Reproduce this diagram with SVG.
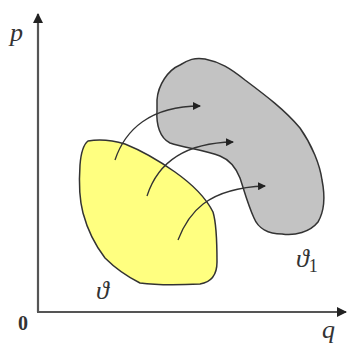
<svg xmlns="http://www.w3.org/2000/svg" width="350" height="344" viewBox="0 0 350 344">
<defs>
<marker id="ah" markerWidth="8" markerHeight="8" refX="7" refY="4" orient="auto" markerUnits="userSpaceOnUse">
<path d="M0,0 L8,4 L0,8 Z" fill="#222"/>
</marker>
<marker id="axh" markerWidth="10" markerHeight="10" refX="9" refY="5" orient="auto" markerUnits="userSpaceOnUse">
<path d="M0,0 L10,5 L0,10 Z" fill="#222"/>
</marker>
<style>
.blob{stroke:#333;stroke-width:1.5;stroke-linejoin:round}
.conn{fill:none;stroke:#333;stroke-width:1.3}
.axis{fill:none;stroke:#555;stroke-width:2.2}
.lbl{font-family:"Liberation Serif",serif;font-style:italic;fill:#333}
</style>
</defs>
<rect width="350" height="344" fill="#fff"/>
<g id="axes">
<line class="axis" x1="38" y1="312" x2="38" y2="14" marker-end="url(#axh)"/>
<line class="axis" x1="37" y1="312" x2="346" y2="312" marker-end="url(#axh)"/>
</g>
<g id="gamma1">
<path class="blob" fill="#c3c3c3" d="M157,100 C158,85 168,70 180,65 C188,60 195,57 205,59 C220,62 230,68 245,80 C265,95 285,110 300,128 C312,145 320,165 322,180 C325,195 325,210 318,222 C310,232 295,236 282,234 C268,234 258,228 254,218 C248,205 244,190 240,178 C236,168 230,160 220,156 C205,150 185,148 170,143 C160,138 156,125 157,110 Z"/>
</g>
<g id="gamma">
<path class="blob" fill="#ffff80" d="M88,141 C100,139 115,141 125,144 C140,150 158,160 175,172 C192,184 205,196 213,212 C217,225 217,245 217,262 C217,274 212,282 200,284 C180,285 155,285 140,283 C128,277 115,268 105,258 C95,245 87,228 83,213 C79,198 79,180 80,165 C81,152 83,145 88,141 Z"/>
</g>
<g id="connectors">
<path class="conn" d="M115,160 C125,130 150,106 200,106" marker-end="url(#ah)"/>
<path class="conn" d="M147,196 C156,168 178,143 233,142" marker-end="url(#ah)"/>
<path class="conn" d="M178,240 C188,214 206,188 265,186" marker-end="url(#ah)"/>
</g>
<g id="labels">
<text class="lbl" x="10" y="41" font-size="26">p</text>
<text class="lbl" x="322" y="338" font-size="26">q</text>
<text x="18" y="330" font-family="Liberation Serif,serif" font-weight="bold" font-size="20" fill="#333">0</text>
<text class="lbl" x="96" y="299" font-size="26">ϑ</text>
<text class="lbl" x="296" y="267" font-size="26">ϑ<tspan font-style="normal" font-size="18" dy="5">1</tspan></text>
</g>
</svg>
